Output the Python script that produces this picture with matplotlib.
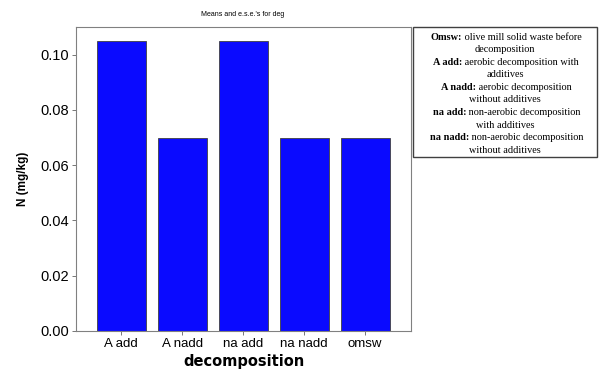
import matplotlib.pyplot as plt

categories = ['A add', 'A nadd', 'na add', 'na nadd', 'omsw']
means = [0.105, 0.07, 0.105, 0.07, 0.07]
yticks = [0.00, 0.02, 0.04, 0.06, 0.08, 0.10]

legend_lines = [
    ('Omsw:', ' olive mill solid waste before'), (None, 'decomposition'),
    ('A add:', ' aerobic decomposition with'), (None, 'additives'),
    ('A nadd:', ' aerobic decomposition'), (None, 'without additives'),
    ('na add:', ' non-aerobic decomposition'), (None, 'with additives'),
    ('na nadd:', ' non-aerobic decomposition'), (None, 'without additives'),
]

plt.rcParams['font.family'] = ['Liberation Sans', 'DejaVu Sans']
fig = plt.figure(figsize=(6.02, 3.72), dpi=100)
ax = fig.add_axes([76 / 602, 1 - 331 / 372, 335 / 602, 304 / 372])

x = range(len(categories))
ax.bar(x, means, width=0.8, color='#0a0aff', edgecolor='#404040', linewidth=0.6)

ax.set_xlim(-0.74, 4.75)
ax.set_ylim(0, 0.11)
ax.set_yticks(yticks)
ax.set_yticklabels(['%.2f' % t for t in yticks], fontsize=10.5)
ax.set_xticks(list(x))
ax.set_xticklabels(categories, fontsize=9.5)
ax.tick_params(length=3, width=0.6, color='#606060', pad=2)
for s in ax.spines.values():
    s.set_color('#808080')
    s.set_linewidth(0.8)

ax.set_xlabel('decomposition', fontsize=10.5, fontweight='bold', labelpad=3,
              family=['DejaVu Sans'])
ax.set_ylabel('N (mg/kg)', fontsize=8.5, fontweight='bold', labelpad=8)
fig.text(243 / 602, 1 - 14 / 372, "Means and e.s.e.'s for deg", fontsize=5,
         ha='center', va='center')

# legend box on the right
box = plt.Rectangle((413 / 602, 1 - 157 / 372), 184 / 602, 130 / 372,
                    transform=fig.transFigure, fill=False, edgecolor='#404040',
                    linewidth=1.0)
fig.patches.append(box)
cx = 505 / 602
y0 = 37
step = 12.6
fs = 7.4
fig.canvas.draw()
rend = fig.canvas.get_renderer()
for i, (bold, rest) in enumerate(legend_lines):
    yy = 1 - (y0 + i * step) / 372
    if bold is None:
        fig.text(cx, yy, rest, fontsize=fs, family='Liberation Serif',
                 ha='center', va='center')
    else:
        t = fig.text(cx, yy, bold + rest, fontsize=fs, family='Liberation Serif',
                     ha='center', va='center', alpha=0)
        bb = t.get_window_extent(renderer=rend)
        left = bb.x0 / fig.bbox.width
        tb = fig.text(left, yy, bold, fontsize=fs, family='Liberation Serif',
                      fontweight='bold', ha='left', va='center')
        bw = tb.get_window_extent(renderer=rend).width
        fig.text(left + bw / fig.bbox.width, yy, rest, fontsize=fs,
                 family='Liberation Serif', ha='left', va='center')

fig.savefig('out.png', dpi=100)
